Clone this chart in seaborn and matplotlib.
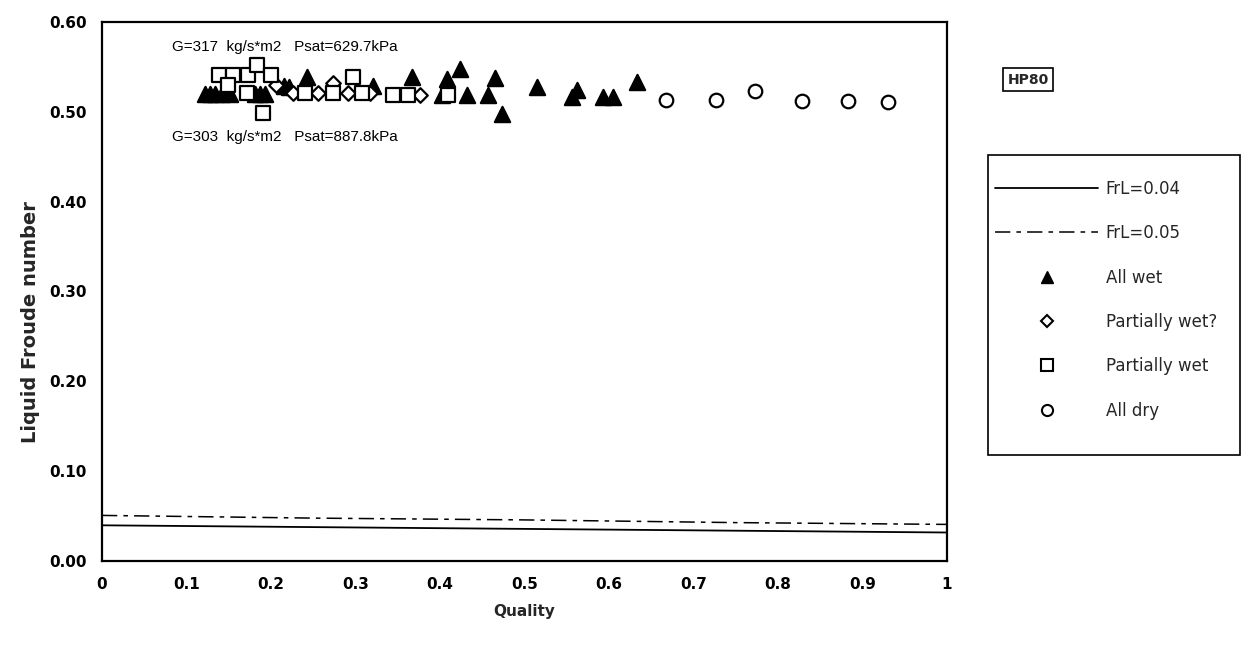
import numpy as np
import pandas as pd
import matplotlib
matplotlib.use("Agg")
import matplotlib.pyplot as plt
from matplotlib.lines import Line2D
from matplotlib.patches import Rectangle
import seaborn as sns

# Stratified-flow criterion lines (liquid Froude number vs quality)
line_quality = [0.0, 0.25, 0.5, 0.75, 1.0]
frl_004 = [0.040, 0.038, 0.036, 0.034, 0.032]
frl_005 = [0.051, 0.048, 0.046, 0.043, 0.041]

# Observed wetting regimes
wet_quality = [0.122, 0.128, 0.134, 0.142, 0.151, 0.181, 0.187, 0.193,
               0.215, 0.221, 0.243, 0.321, 0.367, 0.402, 0.408, 0.424,
               0.432, 0.457, 0.465, 0.473, 0.515, 0.556, 0.562, 0.593,
               0.605, 0.633]
wet_froude = [0.520, 0.520, 0.520, 0.520, 0.520, 0.520, 0.520, 0.520,
              0.528, 0.527, 0.539, 0.528, 0.538, 0.519, 0.536, 0.547,
              0.518, 0.518, 0.537, 0.497, 0.527, 0.516, 0.524, 0.516,
              0.516, 0.533]

pwq_quality = [0.206, 0.226, 0.256, 0.273, 0.291, 0.317, 0.376]
pwq_froude = [0.530, 0.521, 0.521, 0.532, 0.521, 0.521, 0.519]

pw_quality = [0.138, 0.155, 0.173, 0.183, 0.200, 0.149, 0.172, 0.191,
              0.240, 0.273, 0.297, 0.308, 0.345, 0.362, 0.410]
pw_froude = [0.541, 0.541, 0.541, 0.552, 0.541, 0.530, 0.521, 0.499,
             0.521, 0.521, 0.539, 0.521, 0.519, 0.519, 0.519]

dry_quality = [0.668, 0.727, 0.773, 0.829, 0.883, 0.931]
dry_froude = [0.513, 0.513, 0.523, 0.512, 0.512, 0.511]

x_ticks = [0, 0.1, 0.2, 0.3, 0.4, 0.5, 0.6, 0.7, 0.8, 0.9, 1]
x_tick_labels = ["0", "0.1", "0.2", "0.3", "0.4", "0.5", "0.6", "0.7", "0.8", "0.9", "1"]
y_ticks = [0.0, 0.1, 0.2, 0.3, 0.4, 0.5, 0.6]
y_tick_labels = ["0.00", "0.10", "0.20", "0.30", "0.40", "0.50", "0.60"]

sns.set_theme(style="white")
plt.rcParams["font.family"] = ["DejaVu Sans"]

fig = plt.figure(figsize=(12.44, 6.58), dpi=100)
ax = fig.add_axes([0.082, 0.147, 0.679, 0.820])

lines_df = pd.DataFrame({"quality": line_quality, "frl004": frl_004, "frl005": frl_005})
sns.lineplot(data=lines_df, x="quality", y="frl004", ax=ax, color="black",
             linewidth=1.3, estimator=None)
sns.lineplot(data=lines_df, x="quality", y="frl005", ax=ax, color="black",
             linewidth=1.1, estimator=None)
ax.lines[-1].set_linestyle((0, (10, 4, 3, 4)))

groups = [
    (wet_quality, wet_froude, "^", "black", 120),
    (pwq_quality, pwq_froude, "D", "white", 55),
    (pw_quality, pw_froude, "s", "white", 100),
    (dry_quality, dry_froude, "o", "white", 95),
]
for q, fr, mk, fc, size in groups:
    sns.scatterplot(x=q, y=fr, ax=ax, marker=mk, s=size, facecolor=fc,
                    edgecolor="black", linewidth=1.6, zorder=3)

ax.set_xlim(0, 1)
ax.set_ylim(0, 0.6)
ax.set_xticks(x_ticks)
ax.set_xticklabels(x_tick_labels, fontweight="bold", fontsize=11)
ax.set_yticks(y_ticks)
ax.set_yticklabels(y_tick_labels, fontweight="bold", fontsize=11)
ax.tick_params(axis="x", direction="out", length=8, width=1.2, pad=3, colors="black")
ax.tick_params(axis="y", direction="inout", length=14, width=1.2, pad=4, colors="black")
ax.set_xlabel("Quality", fontweight="bold", fontsize=11, labelpad=9)
ax.set_ylabel("Liquid Froude number", fontweight="bold", fontsize=14)
ax.yaxis.set_label_coords(-0.074, 0.443)
for side in ["left", "right", "top", "bottom"]:
    ax.spines[side].set_color("black")
    ax.spines[side].set_linewidth(1.6)

ax.text(0.083, 0.572, "G=317  kg/s*m2   Psat=629.7kPa", fontsize=11,
        family="Liberation Sans", ha="left", va="center", color="black")
ax.text(0.083, 0.472, "G=303  kg/s*m2   Psat=887.8kPa", fontsize=11,
        family="Liberation Sans", ha="left", va="center", color="black")

fig.text(0.8265, 0.879, "HP80", fontsize=10, fontweight="bold", ha="center", va="center",
         bbox=dict(boxstyle="square,pad=0.3", facecolor="white", edgecolor="black", linewidth=1.2))

# Legend frame drawn as a separate box so its size can be set directly
fig.patches.append(Rectangle((0.794, 0.3085), 0.2026, 0.456, transform=fig.transFigure,
                             facecolor="white", edgecolor="black", linewidth=1.2, zorder=0))

handles = [
    Line2D([], [], color="black", linewidth=1.3),
    Line2D([], [], color="black", linewidth=1.1, linestyle=(0, (10, 4, 3, 4))),
    Line2D([], [], color="black", marker="^", linestyle="", markersize=8,
           markerfacecolor="black"),
    Line2D([], [], color="black", marker="D", linestyle="", markersize=6,
           markerfacecolor="white", markeredgewidth=1.5),
    Line2D([], [], color="black", marker="s", linestyle="", markersize=8,
           markerfacecolor="white", markeredgewidth=1.5),
    Line2D([], [], color="black", marker="o", linestyle="", markersize=8,
           markerfacecolor="white", markeredgewidth=1.5),
]
labels = ["FrL=0.04", "FrL=0.05", "All wet", "Partially wet?", "Partially wet", "All dry"]
leg = fig.legend(handles, labels, loc="upper left", bbox_to_anchor=(0.7998, 0.7265),
                 frameon=False, fontsize=12, handlelength=6.2,
                 labelspacing=1.58, handletextpad=0.45, borderpad=0, borderaxespad=0)

fig.savefig("out.png", dpi=100, facecolor="white")
